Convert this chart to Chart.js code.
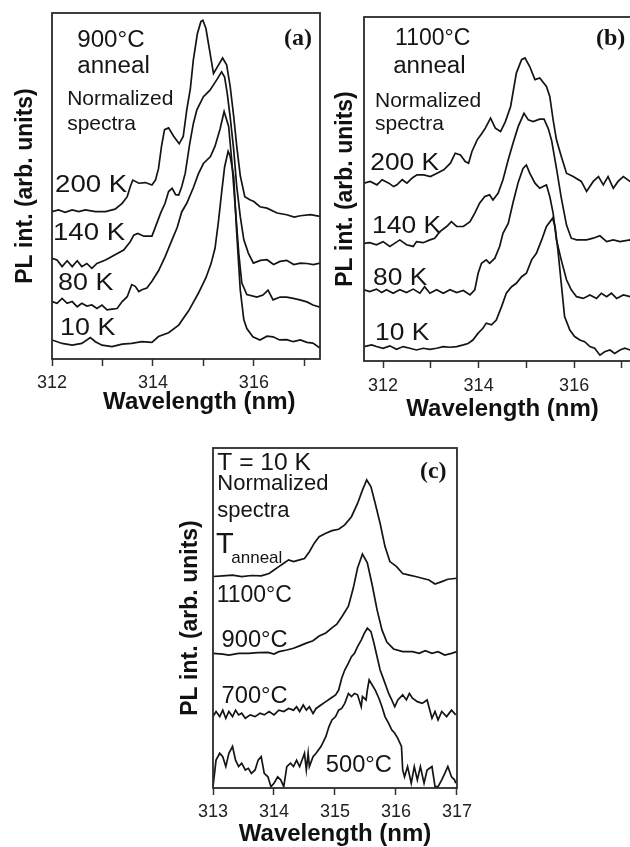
<!DOCTYPE html>
<html>
<head>
<meta charset="utf-8">
<script src="https://cdn.jsdelivr.net/npm/chart.js@4.4.1/dist/chart.umd.min.js"></script>
<style>
  html, body { margin: 0; padding: 0; background: #fff; }
  body { width: 630px; height: 847px; position: relative; overflow: hidden; }
  canvas { position: absolute; }
  #cA { left: 0; top: 0; }
  #cB { left: 325px; top: 0; }
  #cC { left: 150px; top: 430px; }
</style>
</head>
<body>
<canvas id="cA" width="330" height="420"></canvas>
<canvas id="cB" width="316" height="425"></canvas>
<canvas id="cC" width="330" height="420"></canvas>
<script>
// ---- panel (a): 900 C anneal, normalized PL spectra at several temperatures ----
const aWl200 = [312.00,312.13,312.26,312.40,312.53,312.66,312.86,313.06,313.25,313.39,313.49,313.55,313.60,313.72,313.85,313.98,314.05,314.11,314.17,314.23,314.31,314.41,314.52,314.60,314.67,314.74,314.80,314.88,314.95,314.99,315.05,315.12,315.20,315.28,315.38,315.46,315.53,315.60,315.66,315.73,315.82,315.92,316.00,316.12,316.26,316.46,316.65,316.80,316.92,317.12,317.31];
const aPl200 = [42.6,43.1,42.4,43.1,42.6,43.1,42.6,42.6,43.3,45.0,46.9,49.8,51.7,50.8,51.0,50.3,51.7,55.0,61.5,66.3,66.8,64.4,62.2,64.3,72.0,78.0,86.4,94.0,97.5,97.9,95.5,89.4,82.5,84.5,87.0,85.0,78.8,70.1,61.5,53.0,46.9,46.0,45.5,44.0,43.6,42.2,41.7,41.0,41.4,41.7,41.2];
const aWl140 = [312.00,312.10,312.20,312.30,312.40,312.50,312.59,312.69,312.79,312.89,313.06,313.25,313.42,313.55,313.62,313.70,313.82,313.98,314.05,314.15,314.24,314.31,314.38,314.45,314.51,314.57,314.64,314.73,314.80,314.87,315.00,315.13,315.26,315.36,315.42,315.47,315.53,315.60,315.66,315.73,315.80,315.89,315.99,316.13,316.26,316.39,316.52,316.65,316.79,316.92,317.05,317.18,317.31];
const aPl140 = [29.1,28.6,26.7,28.4,26.7,28.4,26.7,27.6,26.2,27.6,28.6,30.1,31.5,33.9,35.8,36.3,35.5,35.5,38.2,42.1,45.0,48.4,49.3,47.5,47.4,49.8,53.7,62.3,68.0,72.0,75.8,77.7,80.6,83.0,81.5,77.0,70.0,60.5,49.9,41.2,34.5,30.6,27.7,28.5,28.7,27.3,28.2,28.5,27.3,27.7,27.6,27.3,27.7];
const aWl80 = [312.00,312.10,312.20,312.30,312.40,312.50,312.59,312.69,312.79,312.89,312.99,313.09,313.19,313.29,313.39,313.49,313.58,313.65,313.72,313.78,313.88,313.98,314.11,314.24,314.38,314.48,314.57,314.67,314.80,314.90,315.00,315.14,315.23,315.33,315.41,315.50,315.56,315.63,315.70,315.76,315.86,316.06,316.18,316.28,316.38,316.52,316.65,316.78,316.91,317.05,317.17,317.31];
const aPl80 = [16.6,16.1,17.5,16.1,16.6,15.1,16.1,15.3,15.6,14.6,15.6,14.2,14.4,14.6,16.6,18.0,21.5,21.0,19.5,20.0,20.5,22.5,25.5,29.5,34.5,38.0,42.5,45.0,49.5,53.5,56.5,58.5,61.5,66.5,71.5,67.2,57.6,44.1,30.6,22.0,18.6,17.9,18.5,19.9,17.1,17.9,17.9,17.5,17.1,16.5,15.6,15.0];
const aWl10 = [312.00,312.20,312.40,312.59,312.76,312.86,312.99,313.19,313.39,313.58,313.78,313.98,314.11,314.31,314.51,314.71,314.90,315.05,315.15,315.23,315.30,315.36,315.42,315.49,315.53,315.60,315.66,315.73,315.80,315.86,315.98,316.12,316.26,316.38,316.51,316.65,316.78,316.92,317.05,317.17,317.31];
const aPl10 = [5.5,4.5,4.0,4.5,6.2,5.0,4.0,3.6,4.3,4.5,5.0,4.8,6.5,7.6,9.8,14.0,19.0,23.5,27.5,32.0,40.0,48.0,55.5,60.0,58.6,52.8,36.4,20.0,11.4,8.8,6.4,5.5,6.6,6.4,5.5,5.6,5.0,5.5,4.8,4.6,3.2];

// ---- panel (b): 1100 C anneal ----
const bWl200 = [311.60,311.73,311.87,311.98,312.12,312.22,312.29,312.40,312.50,312.61,312.71,312.85,312.99,313.13,313.27,313.41,313.51,313.62,313.72,313.79,313.86,313.97,314.07,314.14,314.25,314.35,314.46,314.56,314.67,314.79,314.90,314.97,315.07,315.18,315.28,315.42,315.49,315.56,315.63,315.73,315.84,315.98,316.15,316.26,316.40,316.51,316.61,316.71,316.82,316.92,317.03,317.17,317.40];
const bPl200 = [51.7,52.2,51.2,52.7,51.7,50.7,51.2,52.7,51.7,53.2,54.1,54.1,53.6,54.6,55.6,57.5,60.4,59.9,58.0,57.5,60.9,64.3,66.2,67.7,70.6,67.7,66.7,69.6,74.0,83.7,87.6,88.1,85.6,81.8,82.3,79.8,76.9,70.1,64.3,59.5,54.6,53.6,52.2,49.3,52.2,53.6,51.2,53.6,50.2,52.2,53.6,52.2,52.5];
const bWl140 = [311.60,311.72,311.86,312.00,312.14,312.24,312.35,312.49,312.63,312.70,312.84,312.98,313.08,313.19,313.33,313.43,313.54,313.68,313.82,313.92,314.02,314.13,314.23,314.30,314.41,314.51,314.62,314.72,314.83,314.95,315.04,315.14,315.28,315.37,315.46,315.53,315.63,315.73,315.84,315.94,316.05,316.26,316.40,316.54,316.68,316.82,316.96,317.17,317.40];
const bPl140 = [34.2,34.4,33.8,34.7,33.3,34.2,35.2,33.8,33.3,34.7,34.4,35.2,35.7,37.6,39.1,40.5,39.1,39.1,40.5,43.0,45.9,47.8,48.3,46.8,48.8,52.7,58.5,63.3,68.2,72.0,70.1,69.6,70.3,70.3,67.5,64.0,56.0,47.5,39.5,35.7,35.2,35.2,35.7,36.4,34.7,35.2,34.7,35.2,35.0];
const bWl80 = [311.60,311.72,311.86,311.97,312.07,312.21,312.35,312.49,312.63,312.77,312.87,312.98,313.12,313.26,313.40,313.54,313.68,313.82,313.92,313.99,314.06,314.16,314.23,314.34,314.44,314.51,314.62,314.72,314.83,314.93,315.00,315.07,315.18,315.28,315.35,315.42,315.49,315.56,315.63,315.73,315.84,315.94,316.05,316.19,316.33,316.47,316.57,316.68,316.78,316.89,317.03,317.17,317.40];
const bPl80 = [20.7,20.2,20.9,19.9,20.7,19.7,20.7,19.9,20.9,19.7,21.6,19.7,20.7,19.7,20.7,19.9,20.5,19.2,20.7,25.5,28.4,29.4,28.4,29.9,33.3,37.1,40.0,46.0,52.0,56.0,57.0,54.6,51.7,50.2,50.7,51.2,47.8,43.0,35.2,29.4,23.6,20.7,18.7,18.2,19.2,18.2,19.7,18.7,19.7,18.2,19.2,18.7,19.0];
const bWl10 = [311.60,311.76,311.86,312.00,312.14,312.28,312.42,312.56,312.70,312.84,312.98,313.12,313.26,313.40,313.54,313.68,313.78,313.88,313.99,314.09,314.16,314.27,314.37,314.48,314.58,314.69,314.79,314.90,315.00,315.11,315.21,315.32,315.42,315.55,315.60,315.66,315.73,315.80,315.91,316.01,316.12,316.22,316.33,316.43,316.54,316.64,316.75,316.85,316.96,317.06,317.17,317.40];
const bPl10 = [4.2,4.7,4.2,3.7,4.4,3.4,4.2,3.7,3.2,3.7,3.4,3.7,4.2,4.0,4.2,4.7,5.1,6.1,8.1,9.5,11.0,10.5,11.9,15.8,19.7,21.6,22.6,24.5,25.5,29.4,31.3,35.2,39.1,41.5,39.1,32.3,22.6,12.9,9.0,7.1,6.1,5.6,4.2,3.7,1.7,2.7,3.2,2.2,3.2,3.7,3.2,3.5];

// ---- panel (c): T = 10 K, different anneal temperatures ----
const cWl1100 = [313.00,313.16,313.32,313.47,313.63,313.79,313.92,314.00,314.08,314.16,314.24,314.32,314.42,314.50,314.58,314.66,314.74,314.85,314.95,315.06,315.16,315.27,315.37,315.45,315.52,315.59,315.66,315.74,315.82,315.90,316.01,316.11,316.22,316.32,316.43,316.54,316.64,316.75,316.85,317.00];
const cPl1100 = [62.2,62.4,62.6,62.2,62.5,62.4,63.1,64.1,65.1,66.1,67.1,66.6,67.1,67.5,69.5,72.0,73.9,74.9,75.7,76.1,77.4,79.8,83.7,87.6,90.6,88.6,83.7,77.8,71.0,66.6,65.1,63.1,62.6,62.2,61.7,61.2,60.0,60.7,61.4,61.7];
const cWl900 = [313.00,313.16,313.26,313.42,313.58,313.74,313.90,314.00,314.08,314.21,314.32,314.42,314.53,314.64,314.74,314.85,314.95,315.03,315.11,315.22,315.30,315.37,315.45,315.53,315.61,315.69,315.77,315.85,315.96,316.11,316.27,316.38,316.48,316.59,316.69,316.80,316.91,317.00];
const cPl900 = [39.6,39.4,39.1,39.6,39.6,39.8,39.9,39.4,40.1,40.6,41.1,41.8,42.6,43.3,44.7,45.6,47.1,48.2,50.3,53.5,58.8,64.7,68.8,66.2,59.7,52.4,46.5,42.9,40.9,40.1,40.1,39.6,40.4,39.6,40.1,39.1,39.6,40.1];
const cWl700 = [313.00,313.05,313.11,313.16,313.21,313.26,313.32,313.37,313.42,313.47,313.53,313.61,313.69,313.77,313.84,313.92,314.00,314.08,314.16,314.24,314.32,314.37,314.42,314.48,314.53,314.58,314.64,314.69,314.77,314.85,314.93,315.01,315.06,315.11,315.16,315.22,315.27,315.32,315.37,315.43,315.48,315.53,315.59,315.64,315.69,315.74,315.80,315.88,315.93,315.98,316.03,316.11,316.17,316.22,316.27,316.35,316.43,316.51,316.59,316.64,316.69,316.75,316.83,316.91,316.98];
const cPl700 = [21.0,22.5,21.0,22.9,20.5,22.5,21.0,22.9,21.5,22.0,20.5,21.5,21.0,22.0,21.5,22.5,21.5,22.9,22.5,23.4,22.9,23.9,22.5,24.4,22.9,23.9,21.9,23.4,24.4,25.4,26.4,27.4,28.8,32.3,34.7,36.7,38.6,39.6,41.6,43.5,45.5,47.0,46.0,42.5,38.6,34.7,31.8,27.8,25.9,23.9,25.9,27.4,25.9,27.8,26.4,25.4,24.9,25.9,20.5,22.5,20.0,22.5,21.0,22.9,21.5];
const cWl500 = [313.00,313.05,313.11,313.16,313.21,313.26,313.32,313.37,313.42,313.47,313.53,313.58,313.63,313.69,313.74,313.79,313.84,313.90,313.95,314.00,314.06,314.11,314.16,314.21,314.27,314.32,314.37,314.42,314.48,314.50,314.53,314.56,314.58,314.64,314.69,314.77,314.85,314.90,314.95,315.01,315.06,315.11,315.16,315.22,315.27,315.32,315.37,315.43,315.45,315.51,315.53,315.56,315.61,315.66,315.72,315.77,315.82,315.88,315.93,315.98,316.03,316.09,316.11,316.14,316.19,316.25,316.30,316.35,316.40,316.46,316.51,316.59,316.64,316.69,316.75,316.80,316.85,316.91,316.96,316.98];
const cPl500 = [0.4,8.2,10.2,9.2,6.3,10.2,12.2,8.2,6.3,7.3,5.3,5.8,4.3,5.3,8.2,9.2,4.3,3.3,0.4,1.4,3.3,2.4,0.4,6.3,7.3,6.3,8.2,6.3,9.2,10.2,5.3,10.2,6.3,9.2,10.2,12.2,15.1,18.0,20.0,21.0,22.9,23.4,24.9,27.8,26.9,27.8,27.4,23.9,26.9,25.9,28.8,31.8,30.3,28.8,26.4,23.9,21.0,19.0,17.1,16.1,14.6,12.2,5.3,3.3,6.3,1.4,6.3,2.4,6.3,1.4,5.3,6.3,0.4,0.4,2.4,4.3,6.3,3.3,2.4,1.4];

const SANS = '"Liberation Sans", Arial, sans-serif';
const SERIF = '"Liberation Serif", "Times New Roman", serif';

// in-plot captions, placed in data units of each panel (sx = horizontal stretch of the glyphs)
const labelsA = [
  { text: '900°C', x: 312.50, y: 90.2, font: '23px ' + SANS, sx: 1.05 },
  { text: 'anneal', x: 312.50, y: 82.7, font: '23px ' + SANS, sx: 1.05 },
  { text: 'Normalized', x: 312.30, y: 73.4, font: '21px ' + SANS },
  { text: 'spectra', x: 312.30, y: 66.2, font: '21px ' + SANS },
  { text: '(a)', x: 317.15, y: 90.8, font: 'bold 24px ' + SERIF, align: 'right' },
  { text: '200 K', x: 312.06, y: 48.3, font: '24px ' + SANS, sx: 1.15 },
  { text: '140 K', x: 312.02, y: 34.4, font: '24px ' + SANS, sx: 1.15 },
  { text: '80 K', x: 312.12, y: 19.9, font: '24px ' + SANS, sx: 1.12 },
  { text: '10 K', x: 312.16, y: 6.9, font: '24px ' + SANS, sx: 1.12 }
];
const labelsB = [
  { text: '1100°C', x: 312.25, y: 91.9, font: '23px ' + SANS },
  { text: 'anneal', x: 312.21, y: 83.6, font: '23px ' + SANS, sx: 1.05 },
  { text: 'Normalized', x: 311.83, y: 73.9, font: '21px ' + SANS },
  { text: 'spectra', x: 311.83, y: 67.2, font: '21px ' + SANS },
  { text: '(b)', x: 317.07, y: 91.9, font: 'bold 24px ' + SERIF, align: 'right' },
  { text: '200 K', x: 311.73, y: 55.5, font: '24px ' + SANS, sx: 1.1 },
  { text: '140 K', x: 311.77, y: 37.1, font: '24px ' + SANS, sx: 1.1 },
  { text: '80 K', x: 311.79, y: 22.1, font: '24px ' + SANS, sx: 1.1 },
  { text: '10 K', x: 311.83, y: 6.1, font: '24px ' + SANS, sx: 1.1 }
];
const labelsC = [
  { text: 'T = 10 K', x: 313.07, y: 93.5, font: '23px ' + SANS, sx: 1.07 },
  { text: 'Normalized', x: 313.07, y: 87.6, font: '22px ' + SANS },
  { text: 'spectra', x: 313.07, y: 79.8, font: '22px ' + SANS },
  { text: 'T', x: 313.05, y: 69.0, font: '29px ' + SANS },
  { text: 'anneal', x: 313.30, y: 66.1, font: '17px ' + SANS },
  { text: '1100°C', x: 313.06, y: 54.8, font: '23px ' + SANS },
  { text: '900°C', x: 313.14, y: 41.6, font: '23px ' + SANS, sx: 1.03 },
  { text: '700°C', x: 313.14, y: 24.9, font: '23px ' + SANS, sx: 1.03 },
  { text: '500°C', x: 314.85, y: 4.8, font: '23px ' + SANS, sx: 1.03 },
  { text: '(c)', x: 316.83, y: 91.1, font: 'bold 24px ' + SERIF, align: 'right' }
];

// frame round the plot area + captions
function framePlugin(labels) {
  return {
    id: 'frameText',
    afterDatasetsDraw(chart) {
      const { ctx, chartArea: a, scales } = chart;
      ctx.save();
      ctx.strokeStyle = '#2b2b2b';
      ctx.lineWidth = 1.8;
      ctx.strokeRect(a.left, a.top, a.right - a.left, a.bottom - a.top);
      ctx.fillStyle = '#151515';
      ctx.textBaseline = 'alphabetic';
      labels.forEach(l => {
        ctx.save();
        ctx.font = l.font;
        ctx.textAlign = l.align || 'left';
        ctx.translate(scales.x.getPixelForValue(l.x), scales.y.getPixelForValue(l.y));
        ctx.scale(l.sx || 1, 1);
        ctx.fillText(l.text, 0, 0);
        ctx.restore();
      });
      ctx.restore();
    }
  };
}

function series(wl, pl) {
  return {
    data: wl.map((w, i) => ({ x: w, y: pl[i] })),
    borderColor: '#141414',
    borderWidth: 1.7,
    pointRadius: 0,
    tension: 0,
    fill: false
  };
}

function panel(id, p) {
  return new Chart(document.getElementById(id), {
    type: 'line',
    data: { datasets: p.curves },
    options: {
      responsive: false,
      animation: false,
      devicePixelRatio: 1,
      layout: { padding: { top: p.padTop, right: p.padRight, left: 0, bottom: 0 } },
      plugins: { legend: { display: false }, tooltip: { enabled: false } },
      scales: {
        x: {
          type: 'linear', min: p.xMin, max: p.xMax,
          afterFit: s => { s.height = p.xAxisH; },
          border: { display: false },
          grid: { display: true, drawOnChartArea: false, drawTicks: true, tickLength: 7, tickWidth: 1.5, tickColor: '#333' },
          ticks: {
            stepSize: 1, includeBounds: false, autoSkip: false, maxRotation: 0,
            padding: p.tickPad, color: '#222',
            font: { family: SANS, size: 18, lineHeight: 1 },
            callback: p.tickText
          },
          title: {
            display: true, text: p.xTitle, color: '#111',
            font: { family: SANS, size: 24, weight: 'bold', lineHeight: 1.2 },
            padding: { top: 0, bottom: p.xTitlePad }
          }
        },
        y: {
          min: 0, max: 100,
          afterFit: s => { s.width = p.yAxisW; },
          border: { display: false },
          grid: { display: false },
          ticks: { display: false },
          title: {
            display: true, text: 'PL int. (arb. units)', color: '#111',
            font: { family: SANS, size: 23, weight: 'bold', lineHeight: 1.2 },
            padding: { top: p.yTitlePad, bottom: 0 }
          }
        }
      }
    },
    plugins: [framePlugin(p.labels)]
  });
}

const evenOnly = v => (v % 2 === 0 ? String(v) : '');

panel('cA', {
  curves: [series(aWl200, aPl200), series(aWl140, aPl140), series(aWl80, aPl80), series(aWl10, aPl10)],
  labels: labelsA,
  xMin: 312, xMax: 317.31,
  padTop: 13, padRight: 10, xAxisH: 61, yAxisW: 52,
  tickPad: 8, xTitlePad: 3.6, yTitlePad: 12,
  xTitle: '    Wavelength (nm)', tickText: evenOnly
});

panel('cB', {
  curves: [series(bWl200, bPl200), series(bWl140, bPl140), series(bWl80, bPl80), series(bWl10, bPl10)],
  labels: labelsB,
  xMin: 311.6, xMax: 317.4,
  padTop: 17, padRight: 0, xAxisH: 64, yAxisW: 39,
  tickPad: 9, xTitlePad: 1.3, yTitlePad: 7,
  xTitle: 'Wavelength (nm)', tickText: evenOnly
});

panel('cC', {
  curves: [series(cWl1100, cPl1100), series(cWl900, cPl900), series(cWl700, cPl700), series(cWl500, cPl500)],
  labels: labelsC,
  xMin: 313, xMax: 317,
  padTop: 18, padRight: 14, xAxisH: 62, yAxisW: 63,
  tickPad: 8, xTitlePad: 1.3, yTitlePad: 26.5,
  xTitle: 'Wavelength (nm)', tickText: v => String(v)
});
</script>
</body>
</html>
